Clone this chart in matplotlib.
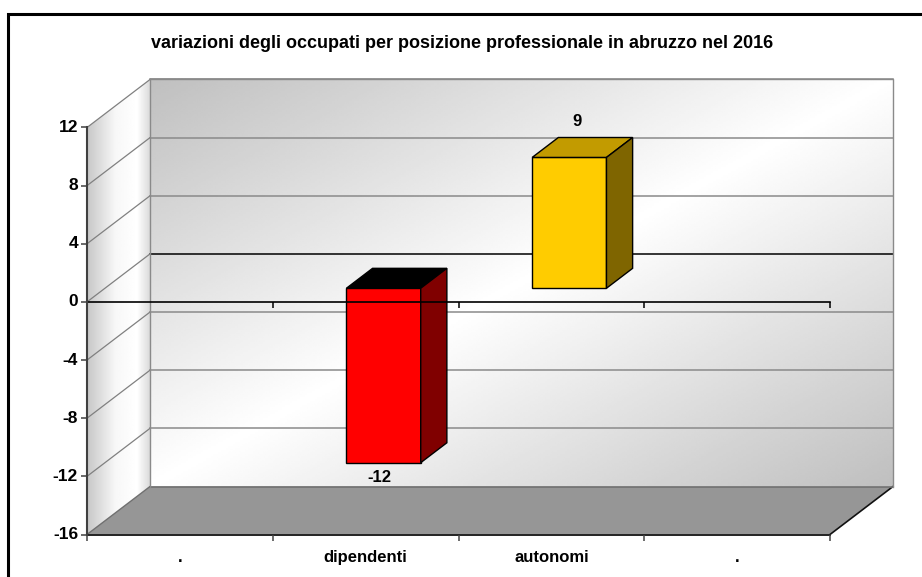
import numpy as np
import matplotlib
matplotlib.use("Agg")
import matplotlib.pyplot as plt
from matplotlib.patches import Polygon, Rectangle

# ---------------- data ----------------
title = "variazioni degli occupati per posizione professionale in abruzzo nel 2016"
categories = [".", "dipendenti", "autonomi", "."]
values = [np.nan, -12, 9, np.nan]
value_labels = ["", "-12", "9", ""]
y_ticks = [-16, -12, -8, -4, 0, 4, 8, 12]
front_colors = [None, "#ff0000", "#ffcc00", None]
top_colors = [None, "#000000", "#c29b00", None]
side_colors = [None, "#800000", "#7f6500", None]

plt.rcParams["font.family"] = ["Liberation Sans", "DejaVu Sans"]

# ---------------- layout ----------------
W, H = 922, 577
fig = plt.figure(figsize=(W / 100, H / 100), dpi=100)
ax = fig.add_axes([0, 0, 1, 1])

n = len(categories)
ymin, ymax = min(y_ticks), max(y_ticks)
px_left, px_right = 87, 830          # front plane, pixels
py_top, py_bot = 127.5, 534.5
sx = (px_right - px_left) / n
sy = (py_bot - py_top) / (ymax - ymin)
ax.set_xlim(-px_left / sx, (W - px_left) / sx)
ax.set_ylim(ymax - (H - py_top) / sy, ymax + py_top / sy)
ax.set_axis_off()

DX = 63 / sx      # depth offset in data units
DY = 48 / sy
f0, f1 = 0.285, 0.70   # bar depth range (fraction of depth)
bw = 0.40              # bar width (category units)

# ---------------- back wall (gradient) ----------------
a = np.linspace(0, 1, 300)[None, :]
b = np.linspace(0, 1, 200)[:, None]
s = a - b
back = 1.0 - 0.25 * np.abs(s)
ax.imshow(back, cmap="gray", vmin=0, vmax=1, origin="lower",
          extent=[DX, n + DX, ymin + DY, ymax + DY], aspect="auto",
          interpolation="bilinear", zorder=0)

# side wall (gradient)
u = np.linspace(0, 1, 100)
side = np.interp(u, [0, 0.45, 0.8, 1.0], [0.78, 0.97, 1.0, 0.86])[None, :]
side = np.repeat(side, 50, axis=0)
im = ax.imshow(side, cmap="gray", vmin=0, vmax=1, origin="lower",
               extent=[0, DX, ymin, ymax + DY], aspect="auto",
               interpolation="bilinear", zorder=0)
side_poly = Polygon([(0, ymin), (DX, ymin + DY), (DX, ymax + DY), (0, ymax)],
                    closed=True, transform=ax.transData, facecolor="none", edgecolor="none")
ax.add_patch(side_poly)
im.set_clip_path(side_poly)

# floor
floor = Polygon([(0, ymin), (n, ymin), (n + DX, ymin + DY), (DX, ymin + DY)],
                closed=True, facecolor="#969696", edgecolor="none", zorder=1)
ax.add_patch(floor)
ax.plot([n, n + DX], [ymin, ymin + DY], color="#111111", lw=1.2, zorder=2)
ax.plot([DX, n + DX], [ymin + DY, ymin + DY], color="#707070", lw=1.2, zorder=2)

# gridlines
for v in y_ticks:
    if v == ymin:
        ax.plot([0, DX], [v, v + DY], color="#707070", lw=1.0, zorder=2)
        continue
    col = "#000000" if v == 0 else "#8a8a8a"
    ax.plot([DX, n + DX], [v + DY, v + DY], color=col, lw=1.1, zorder=2)
    ax.plot([0, DX], [v, v + DY], color="#808080", lw=0.9, zorder=2)
# back wall outline
ax.plot([DX, DX, n + DX, n + DX], [ymin + DY, ymax + DY, ymax + DY, ymin + DY],
        color="#8a8a8a", lw=1.0, zorder=2)

# ---------------- bars ----------------
for i, v in enumerate(values):
    if np.isnan(v):
        continue
    xc = i + 0.5
    x0 = xc - bw / 2 + f0 * DX
    x1 = x0 + bw
    y0 = f0 * DY
    y1 = v + f0 * DY
    ddx = (f1 - f0) * DX
    ddy = (f1 - f0) * DY
    ytop = max(y0, y1)
    front = Polygon([(x0, y0), (x1, y0), (x1, y1), (x0, y1)], closed=True,
                    facecolor=front_colors[i], edgecolor="black", lw=1.0, zorder=3)
    top = Polygon([(x0, ytop), (x1, ytop), (x1 + ddx, ytop + ddy), (x0 + ddx, ytop + ddy)],
                  closed=True, facecolor=top_colors[i], edgecolor="black", lw=1.0, zorder=3)
    sidef = Polygon([(x1, y0), (x1, y1), (x1 + ddx, y1 + ddy), (x1 + ddx, y0 + ddy)],
                    closed=True, facecolor=side_colors[i], edgecolor="black", lw=1.0, zorder=3)
    for p in (front, top, sidef):
        ax.add_patch(p)
    xm = xc + f0 * DX
    if v >= 0:
        ax.annotate(value_labels[i], (xm, y1), xytext=(8, 36), textcoords="offset pixels",
                    ha="center", va="center", fontsize=12, fontweight="bold", zorder=6)
    else:
        ax.annotate(value_labels[i], (xm, y1), xytext=(-4, -15), textcoords="offset pixels",
                    ha="center", va="center", fontsize=12, fontweight="bold", zorder=6)

# ---------------- axes lines & ticks ----------------
bounds = np.arange(n + 1)
# zero (category) axis
ax.plot([0, n], [0, 0], color="black", lw=1.2, zorder=5)
ax.plot(bounds[1:], np.zeros(n), ls="none", marker=3, ms=4.5, mew=1.1, color="black", zorder=5)
# bottom axis
ax.plot([0, n], [ymin, ymin], color="#222222", lw=1.4, zorder=5)
ax.plot(bounds, np.full(n + 1, ymin), ls="none", marker=3, ms=4.5, mew=1.1, color="#444444", zorder=5)
# value axis
ax.plot([0, 0], [ymin, ymax], color="#404040", lw=1.5, zorder=5)
ax.plot(np.zeros(len(y_ticks)), y_ticks, ls="none", marker=0, ms=4.5, mew=1.1, color="#404040", zorder=5)
for v in y_ticks:
    ax.annotate(str(v), (0, v), xytext=(-9, 0), textcoords="offset pixels",
                ha="right", va="center", fontsize=12.5, fontweight="bold")
for i, c in enumerate(categories):
    ax.annotate(c, (i + 0.5, ymin), xytext=(0, -23), textcoords="offset pixels",
                ha="center", va="center", fontsize=12, fontweight="bold")

# title and frame
fig.text(462 / W, 1 - 43 / H, title, ha="center", va="center", fontsize=13, fontweight="bold")
fig.patches.append(Rectangle((8.3 / W, -0.1), 1.2, 1.1 - 13.8 / H, transform=fig.transFigure,
                             fill=False, edgecolor="black", lw=2.2, clip_on=False))

fig.savefig("out.png", dpi=100)
